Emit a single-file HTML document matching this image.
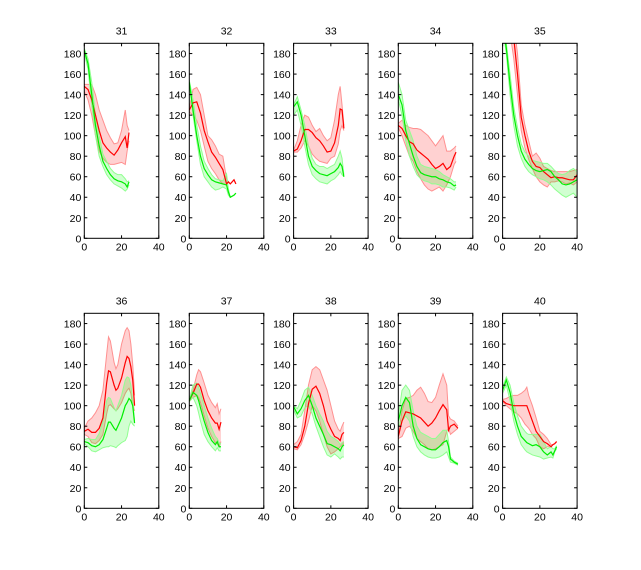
<!DOCTYPE html>
<html><head><meta charset="utf-8"><style>
body{margin:0;background:#fff;}
svg{display:block;font-family:"Liberation Sans",sans-serif;}
</style></head><body>
<svg id="fig" width="641" height="570" viewBox="0 0 641 570"></svg>
<script>
const titles=["31","32","33","34","35","36","37","38","39","40"];
const xTicks=[0,20,40];
const yTicks=[0,20,40,60,80,100,120,140,160,180];
const xs=[
[0,2,4,6,8,10,12,14,16,18,20,22,23,24],
[0,2,4,6,8,10,12,14,16,18,20,21,22,24,25],
[0,2,4,6,8,10,12,14,16,18,20,22,24,25,26,27],
[0,2,4,6,8,10,12,14,16,18,20,22,24,26,28,30,31],
[0,2,4,6,8,10,12,14,16,18,20,22,24,26,28,30,32,34,36,38,40],
[0,2,4,6,8,10,12,13,14,16,17,18,20,22,23,24,25,26,27],
[0,2,4,5,6,8,10,12,14,15,16,17],
[0,2,4,6,8,10,12,14,16,18,20,22,24,25,26,27],
[0,2,4,6,8,10,12,14,16,18,20,22,24,26,27,28,30,32],
[0,2,4,6,8,10,12,13,14,16,18,20,22,24,26,27,28,29]];
const redMean=[
[148,145,135,120,105,93,88,84,81,86,93,99,88,103],
[125,132,133,122,105,94,84,79,73,67,53,55,53,57,53],
[85,87,95,106,106,103,98,95,90,84,85,93,110,126,125,107],
[110,107,100,94,92,86,83,80,77,72,68,70,73,67,70,80,84],
[260,240,210,195,160,118,100,85,75,70,69,65,62,59,60,59,59,58,57,57,62],
[75,77,74,74,78,88,122,134,133,120,115,117,127,142,148,146,138,125,100],
[105,112,121,121,118,105,95,88,83,83,77,84],
[60,59,66,80,102,116,119,112,100,85,77,70,68,66,72,74],
[70,85,94,93,92,90,88,84,80,83,88,95,101,96,76,80,82,78],
[105,102,101,100,100,100,100,100,95,85,75,70,65,63,60,62,63,65]];
const redLo=[
[143,135,120,100,85,78,74,72,72,73,74,72,85,95],
[123,120,115,105,90,75,68,63,57,53,52,55,53,57,53],
[84,84,88,95,90,82,78,75,74,73,78,80,92,105,110,105],
[108,100,90,80,75,65,58,52,48,46,48,50,46,52,60,72,75],
[250,225,200,175,140,105,88,77,68,60,55,52,50,55,55,56,55,53,54,52,55],
[72,70,64,63,66,72,92,100,101,97,95,97,103,112,115,117,112,100,95],
[104,108,110,108,103,90,78,70,64,63,60,65],
[58,57,62,72,85,100,95,85,72,60,53,55,58,60,62,64],
[68,70,78,80,75,68,65,62,58,57,58,60,62,75,78,72,75,78],
[104,100,97,94,92,88,82,80,78,72,68,60,58,60,60,62,63,65]];
const redHi=[
[150,150,150,140,125,115,105,98,92,93,105,125,110,105],
[127,145,147,140,120,100,96,90,82,80,58,55,53,57,53],
[86,95,110,120,118,110,104,107,100,95,98,115,140,148,130,110],
[112,115,110,108,107,107,106,103,100,95,90,95,100,85,85,88,90],
[270,255,230,210,180,130,110,95,80,83,78,70,68,66,65,65,65,65,65,66,67],
[78,85,88,93,100,115,150,167,163,142,136,140,160,173,176,173,160,140,110],
[106,115,130,135,133,122,110,103,98,102,92,97],
[62,65,72,95,120,135,138,135,125,115,100,85,77,75,80,84],
[72,95,107,108,110,115,118,112,104,103,108,120,131,120,90,87,85,80],
[106,107,109,110,110,112,115,118,110,100,88,75,72,68,62,62,63,65]];
const greenMean=[
[183,170,140,110,90,75,68,62,58,56,55,53,50,55],
[152,125,100,80,68,62,57,55,54,53,52,45,40,42,44],
[128,133,120,100,80,70,66,63,62,61,63,65,69,73,70,60],
[140,130,105,92,80,70,64,62,61,60,60,58,57,55,54,51,52],
[210,185,150,120,100,85,77,72,68,66,65,66,67,65,60,57,53,52,53,55,57],
[65,64,61,60,62,67,78,84,84,78,76,80,88,100,103,107,105,100,83],
[105,113,110,105,98,85,74,66,62,65,60,60],
[99,92,97,105,110,100,88,80,72,63,62,60,58,56,60,62],
[85,100,108,103,80,68,62,60,58,57,57,60,64,66,60,48,45,43],
[115,125,113,93,80,70,66,64,63,61,62,60,55,52,55,52,56,60]];
const greenLo=[
[180,165,130,100,80,70,62,57,53,51,49,46,48,52],
[150,120,95,72,60,55,50,47,48,50,48,42,40,42,44],
[120,125,110,90,72,62,58,55,54,53,56,58,62,65,62,60],
[135,120,95,80,70,62,58,56,55,53,53,52,50,50,49,47,50],
[205,180,140,110,90,78,70,65,62,60,58,57,55,52,48,45,42,40,42,44,40],
[63,60,56,55,57,59,60,60,61,60,59,61,64,66,70,80,85,82,80],
[104,108,100,93,85,72,65,60,56,59,56,56],
[96,88,90,98,100,92,80,70,60,52,50,53,50,48,50,50],
[80,85,90,85,70,60,55,52,50,49,49,50,52,55,50,45,44,42],
[112,120,105,85,72,62,57,55,54,52,51,50,48,49,50,49,55,58]];
const greenHi=[
[185,175,152,120,100,82,75,68,64,62,62,58,55,56],
[154,135,110,90,75,68,62,58,57,56,63,48,40,42,44],
[130,138,125,110,90,78,72,70,70,68,70,72,80,85,78,62],
[152,140,115,105,95,80,72,70,69,68,67,65,62,60,58,55,55],
[215,190,160,128,108,92,84,80,76,75,74,73,73,70,66,63,62,63,66,68,65],
[67,68,67,67,73,85,105,108,107,98,95,100,110,125,128,127,120,105,85],
[106,120,122,118,112,100,88,78,70,68,64,63],
[100,97,105,115,118,110,100,92,85,75,70,68,65,62,64,65],
[90,115,120,115,95,80,74,72,70,68,68,72,76,76,65,50,46,44],
[118,128,120,103,90,80,75,73,72,72,72,72,65,58,60,58,58,61]];

const NS="http://www.w3.org/2000/svg";
const svg=document.getElementById('fig');
const lefts=[84.3,189.3,293.6,398.3,502.6], W=74.5;
const tops=[43.3,313.3], H=195;
function mk(tag,attrs,parent){const e=document.createElementNS(NS,tag);for(const k in attrs)e.setAttribute(k,attrs[k]);parent.appendChild(e);return e;}
for(let p=0;p<10;p++){
  const L=lefts[p%5], T=tops[Math.floor(p/5)];
  const sx=v=>L+v/40*W, sy=v=>T+H-v/190*H;
  const g=mk('g',{},svg);
  
  
  const cp=mk('clipPath',{id:'c'+p},g);
  mk('rect',{x:L,y:T,width:W,height:H},cp);
  const t=mk('text',{x:L+W/2,y:T-9,'text-anchor':'middle','font-size':'10.5'},g);
  t.textContent=titles[p];
  
  
  const dg=mk('g',{'clip-path':'url(#c'+p+')'},g);
  const X=xs[p];
  function band(lo,hi,fill,edge,name){
    let d='M'+X.map((x,i)=>sx(x)+','+sy(hi[i])).join('L')+'L'+X.slice().reverse().map((x,j)=>sx(x)+','+sy(lo[X.length-1-j])).join('L')+'Z';
    const b=mk('path',{d:d,fill:fill,'fill-opacity':'0.18',stroke:'none'},dg);
    
    
    [lo,hi].forEach(arr=>{mk('polyline',{points:X.map((x,i)=>sx(x)+','+sy(arr[i])).join(' '),fill:'none',stroke:edge,'stroke-width':'1'},dg);});
  }
  function line(arr,col,name){
    const l=mk('polyline',{points:X.map((x,i)=>sx(x)+','+sy(arr[i])).join(' '),fill:'none',stroke:col,'stroke-width':'1.2'},dg);
    
    
  }
  band(redLo[p],redHi[p],'#ff0000','#ff9090','red');
  band(greenLo[p],greenHi[p],'#00ff00','#90ff90','green');
  line(redMean[p],'#ff0000','red');
  line(greenMean[p],'#00ee00','green');
  mk('rect',{x:L,y:T,width:W,height:H,fill:'none',stroke:'#000','stroke-width':'1'},g);
  yTicks.forEach(v=>{
    const y=sy(v);
    mk('line',{x1:L,x2:L+3,y1:y,y2:y,stroke:'#000'},g);
    mk('line',{x1:L+W,x2:L+W-3,y1:y,y2:y,stroke:'#000'},g);
    const tx=mk('text',{x:L-3,y:y+4,'text-anchor':'end','font-size':'10.5'},g);
    tx.textContent=v;
    
    
  });
  xTicks.forEach(v=>{
    const x=sx(v);
    mk('line',{x1:x,x2:x,y1:T+H,y2:T+H-3,stroke:'#000'},g);
    mk('line',{x1:x,x2:x,y1:T,y2:T+3,stroke:'#000'},g);
    const tx=mk('text',{x:x,y:T+H+12,'text-anchor':'middle','font-size':'10.5'},g);
    tx.textContent=v;
    
    
  });
}
</script>
</body></html>
